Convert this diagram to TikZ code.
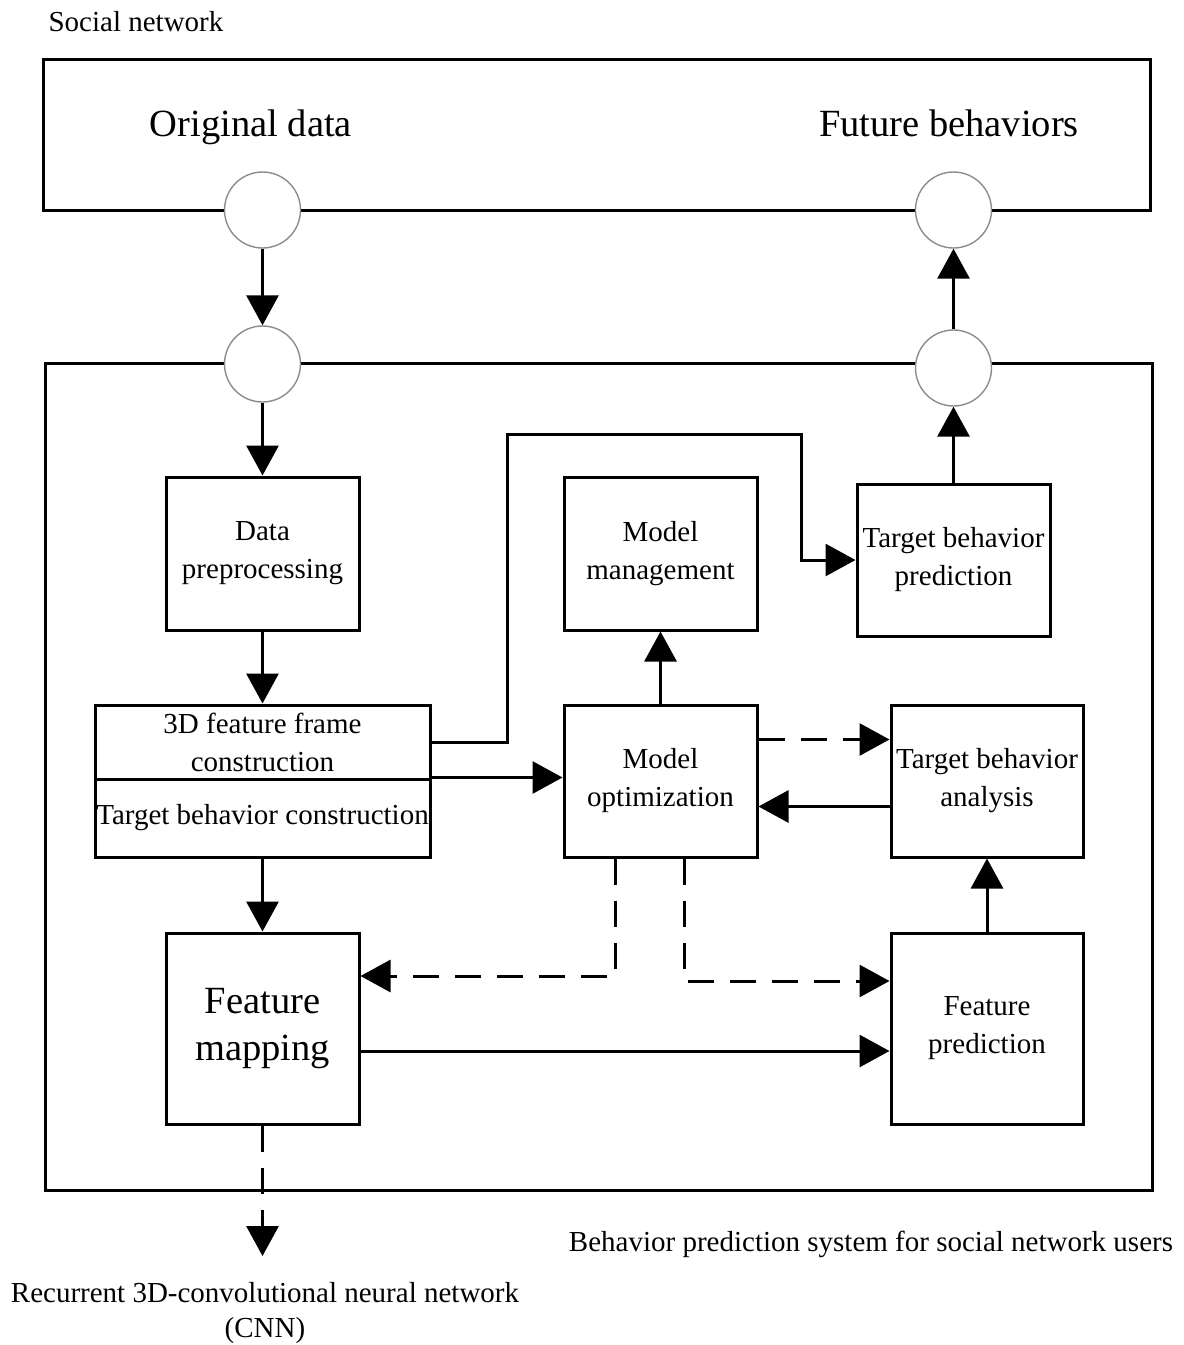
\documentclass[tikz,border=0pt]{standalone}
\usepackage{fontspec}
\setmainfont{Liberation Serif}
\usetikzlibrary{arrows.meta,calc}

\tikzset{
  box/.style={draw, line width=3pt, inner sep=0pt, align=center,
              font=\fontsize{29}{38}\selectfont},
  frame/.style={draw, line width=3pt, inner sep=0pt},
  port/.style={circle, draw=black!45, line width=1.4pt, fill=white,
               minimum size=76pt, inner sep=0pt},
  arr/.style={line width=3pt, -{Triangle[length=30pt,width=32pt]}},
  dash26/.style={dash pattern=on 26pt off 16pt},
  label/.style={inner sep=0pt, align=center, font=\fontsize{29}{35}\selectfont},
  biglabel/.style={inner sep=0pt, anchor=base, font=\fontsize{38.5}{46}\selectfont}
}

\begin{document}
\begin{tikzpicture}[x=1pt, y=-1pt]
\useasboundingbox (0,0) rectangle (1184,1345);

% outer frames
\node[frame, minimum width=1107pt, minimum height=151pt] (net) at (596.5,134.5) {};
\node[frame, minimum width=1107pt, minimum height=827pt] (sys) at (598.5,776.5) {};

% headings
\node[label] (socialtxt) at (136,22) {Social network};
\node[biglabel] (origtxt) at (251,136) {Original data};
\node[biglabel] (futtxt) at (949,136) {Future behaviors};
\node[label] (systxt) at (871,1244) {Behavior prediction system for social network users};
\node[label] (cnntxt) at (265,1313) {Recurrent 3D-convolutional neural network\\(CNN)};

% processing blocks
\node[box, minimum width=193pt, minimum height=153pt] (dp) at (262.5,553.5) {Data\\preprocessing};
\node[box, minimum width=335pt, minimum height=74pt] (fc) at (262.5,742) {3D feature frame\\construction};
\node[box, minimum width=335pt, minimum height=78pt] (tb) at (262.5,818) {Target behavior construction};
\node[box, minimum width=193pt, minimum height=191pt, font=\fontsize{38.5}{47}\selectfont] (fm) at (262.5,1028.5) {Feature\\mapping};
\node[box, minimum width=193pt, minimum height=153pt] (mm) at (660.5,553.5) {Model\\management};
\node[box, minimum width=193pt, minimum height=152pt] (mo) at (660.5,781) {Model\\optimization};
\node[box, minimum width=193pt, minimum height=152pt] (tbp) at (953.5,560) {Target behavior\\prediction};
\node[box, minimum width=192pt, minimum height=152pt] (tba) at (987,781) {Target behavior\\analysis};
\node[box, minimum width=192pt, minimum height=191pt] (fp) at (987,1028.5) {Feature\\prediction};

% ports on the frames
\node[port] (inA) at (262.5,210) {};
\node[port] (inB) at (262.5,364) {};
\node[port] (outA) at (953.5,210) {};
\node[port] (outB) at (953.5,368) {};

% routing points
\coordinate (r1) at (507,434);
\coordinate (r2) at (801,434);
\coordinate (d1) at (615,976);
\coordinate (d2) at (684,981);
\coordinate (h1) at (600,1051);
\coordinate (cnnend) at (262.5,1256);

% data flow
\draw[arr] (inA) -- (inB);
\draw[arr] (inB) -- (dp);
\draw[arr] (dp) -- (fc);
\draw[arr] (tb) -- (fm);
\draw[arr] (tb.north east) -- (tb.north east -| mo.west);
\draw[arr] (fc.east) -| (r1) -- (r2) |- (tbp.west);
\draw[arr] (mo) -- (mm);
\draw[arr] (tbp) -- (outB);
\draw[arr] (outB) -- (outA);
\draw[arr, dash26] ($(mo.north east)+(0,36)$) -- ($(tba.north west)+(0,36)$);
\draw[arr] ($(tba.north west)+(0,103)$) -- ($(mo.north east)+(0,103)$);
\draw[arr] (fp) -- (tba);
\draw[arr, dash26] (d1 |- mo.south) -- (d1) -- (d1 -| fm.east);
\draw[arr, dash26] (d2 |- mo.south) -- (d2) -- (d2 -| fp.west);
\draw[arr] (h1 -| fm.east) -- (h1 -| fp.west);
\draw[arr, dash26] (fm.south) -- (cnnend);
\end{tikzpicture}
\end{document}
